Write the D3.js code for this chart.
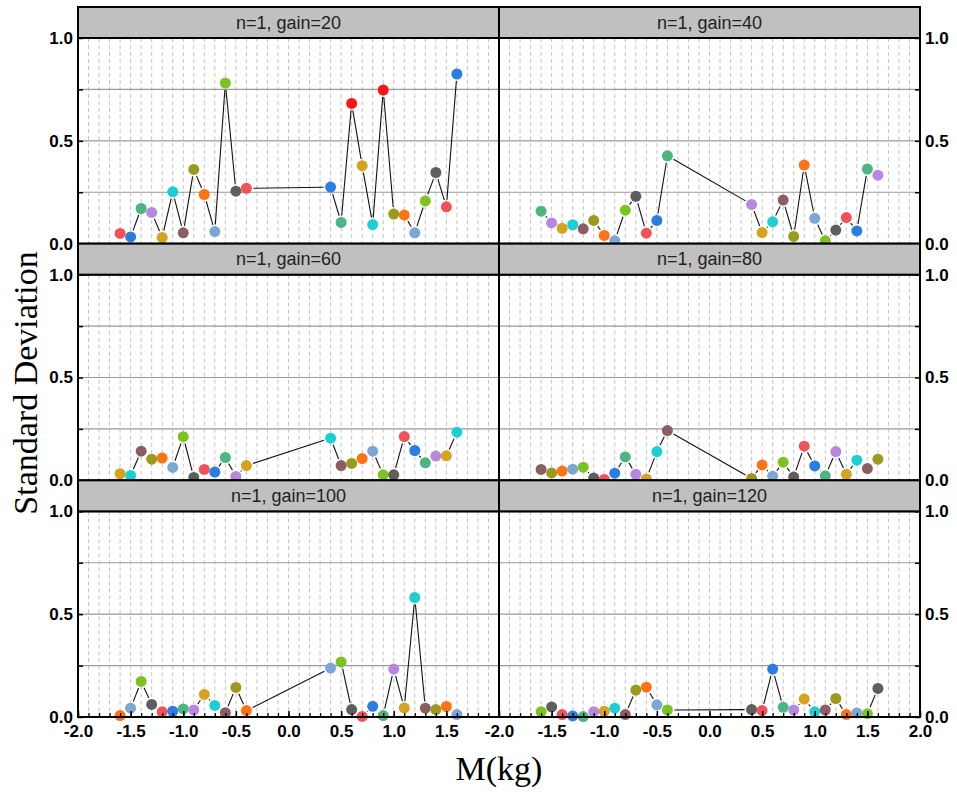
<!DOCTYPE html>
<html>
<head>
<meta charset="utf-8">
<script src="https://cdn.jsdelivr.net/npm/d3@7"></script>
<style>
  body { margin: 0; background: #fff; }
  svg { display: block; }
</style>
</head>
<body>
<div id="chart"></div>
<script>
// Standard deviation vs M(kg), one panel per gain

const FRAME_WIDTH = 957;
const FRAME_HEIGHT = 792;
const MARGINS = {left: 78, right: 37, top: 7, bottom: 75};
const STRIP_H = 31;

// data
const massValues = [-1.6, -1.5, -1.4, -1.3, -1.2, -1.1, -1.0, -0.9, -0.8, -0.7, -0.6, -0.5, -0.4,
                    0.4, 0.5, 0.6, 0.7, 0.8, 0.9, 1.0, 1.1, 1.2, 1.3, 1.4, 1.5, 1.6];
const gains = [20, 40, 60, 80, 100, 120];
const panelTitles = ["n=1, gain=20", "n=1, gain=40", "n=1, gain=60",
                     "n=1, gain=80", "n=1, gain=100", "n=1, gain=120"];

const sdGain20 = [0.050, 0.033, 0.171, 0.152, 0.030, 0.252, 0.053, 0.361, 0.239, 0.059, 0.781, 0.255, 0.269,
                  0.275, 0.103, 0.682, 0.379, 0.093, 0.747, 0.144, 0.139, 0.053, 0.208, 0.346, 0.179, 0.825];
const sdGain40 = [0.158, 0.101, 0.075, 0.092, 0.072, 0.113, 0.040, 0.014, 0.163, 0.230, 0.051, 0.113, 0.427,
                  0.191, 0.054, 0.106, 0.212, 0.035, 0.382, 0.123, 0.014, 0.066, 0.127, 0.062, 0.363, 0.333];
const sdGain60 = [0.032, 0.024, 0.142, 0.103, 0.108, 0.063, 0.212, 0.014, 0.053, 0.040, 0.111, 0.019, 0.072,
                  0.205, 0.072, 0.082, 0.106, 0.142, 0.027, 0.027, 0.213, 0.145, 0.085, 0.118, 0.119, 0.234];
const sdGain80 = [0.053, 0.036, 0.045, 0.054, 0.064, 0.011, 0.004, 0.035, 0.114, 0.029, 0.007, 0.140, 0.242,
                  0.009, 0.075, 0.020, 0.088, 0.016, 0.166, 0.070, 0.022, 0.140, 0.029, 0.098, 0.057, 0.103];
const sdGain100 = [0.007, 0.043, 0.173, 0.061, 0.025, 0.028, 0.039, 0.034, 0.110, 0.056, 0.021, 0.144, 0.031,
                   0.238, 0.268, 0.036, 0.003, 0.052, 0.007, 0.233, 0.044, 0.581, 0.043, 0.036, 0.051, 0.012];
const sdGain120 = [0.026, 0.049, 0.012, 0.005, 0.002, 0.026, 0.028, 0.043, 0.012, 0.131, 0.145, 0.059, 0.034,
                   0.036, 0.031, 0.233, 0.047, 0.034, 0.087, 0.025, 0.034, 0.090, 0.012, 0.020, 0.016, 0.139];
const sdSeries = [sdGain20, sdGain40, sdGain60, sdGain80, sdGain100, sdGain120];

const yTicks = [0, 0.25, 0.5, 0.75, 1.0];
const xMajorTicks = [-2.0, -1.5, -1.0, -0.5, 0.0, 0.5, 1.0, 1.5, 2.0];
const xMinorTicks = d3.range(-20, 21).map(d => d / 10);

// symbol colours cycle through all points in order
const PALETTE = ["#ef5359", "#2a7de1", "#4cb682", "#b787e1", "#d5a31d", "#1ccfd6",
                 "#8b5f61", "#9b9a1c", "#ff7317", "#7ba6d5", "#7bc320", "#5e5e5e"];
const HIGHLIGHT = {0: [0.6, 0.9]};   // bright red points in first panel
const HIGHLIGHT_COLOR = "#ff1414";

const FONT = "'Liberation Sans', Arial, sans-serif";
const SERIF = "'Liberation Serif', 'Times New Roman', serif";

const PANEL_W = (FRAME_WIDTH - MARGINS.left - MARGINS.right) / 2;
const ROW_H = (FRAME_HEIGHT - MARGINS.top - MARGINS.bottom) / 3;
const PLOT_H = ROW_H - STRIP_H;
const R = 5.5;

const svg = d3.select("#chart")
    .append("svg")
    .attr("width", FRAME_WIDTH)
    .attr("height", FRAME_HEIGHT);

gains.forEach((g, p) => {
    const col = p % 2;
    const row = Math.floor(p / 2);
    const x0 = MARGINS.left + col * PANEL_W;
    const top = MARGINS.top + row * ROW_H;
    const plotTop = top + STRIP_H;

    const X_SCALE = d3.scaleLinear().domain([-2, 2]).range([x0, x0 + PANEL_W]);
    const Y_SCALE = d3.scaleLinear().domain([0, 1]).range([plotTop + PLOT_H, plotTop]);

    const panel = svg.append("g");

    panel.append("rect")
        .attr("x", x0).attr("y", plotTop)
        .attr("width", PANEL_W).attr("height", PLOT_H)
        .attr("fill", "#fff");

    // dashed vertical grid every 0.1
    panel.selectAll(".vgrid")
        .data(xMinorTicks.filter(d => Math.abs(d) < 2))
        .enter()
        .append("line")
        .attr("x1", d => X_SCALE(d)).attr("x2", d => X_SCALE(d))
        .attr("y1", plotTop).attr("y2", plotTop + PLOT_H)
        .attr("stroke", "#c4c4c4")
        .attr("stroke-width", 1)
        .attr("stroke-dasharray", "4,3");

    // horizontal grid
    panel.selectAll(".hgrid")
        .data([0.25, 0.5, 0.75])
        .enter()
        .append("line")
        .attr("x1", x0).attr("x2", x0 + PANEL_W)
        .attr("y1", d => Y_SCALE(d)).attr("y2", d => Y_SCALE(d))
        .attr("stroke", "#9a9a9a")
        .attr("stroke-width", 1.2);

    const pts = massValues.map((m, i) => {
        let color = PALETTE[(p * massValues.length + i) % PALETTE.length];
        if (HIGHLIGHT[p] && HIGHLIGHT[p].includes(m)) color = HIGHLIGHT_COLOR;
        return {x: X_SCALE(m), y: Y_SCALE(sdSeries[p][i]), color: color};
    });

    // connecting segments, stopped short of the symbols
    const segs = d3.pairs(pts).map(([a, b]) => {
        const dx = b.x - a.x, dy = b.y - a.y;
        const len = Math.sqrt(dx * dx + dy * dy);
        const gap = R + 1.5;
        if (len <= 2 * gap) return null;
        const ux = dx / len, uy = dy / len;
        return [a.x + ux * gap, a.y + uy * gap, b.x - ux * gap, b.y - uy * gap];
    }).filter(s => s);

    panel.selectAll(".seg")
        .data(segs)
        .enter()
        .append("line")
        .attr("x1", d => d[0]).attr("y1", d => d[1])
        .attr("x2", d => d[2]).attr("y2", d => d[3])
        .attr("stroke", "#111")
        .attr("stroke-width", 1.1);

    panel.selectAll(".pt")
        .data(pts)
        .enter()
        .append("circle")
        .attr("cx", d => d.x)
        .attr("cy", d => d.y)
        .attr("r", R)
        .attr("fill", d => d.color);

    // y axis on the outer side, inward ticks
    const yAxis = (col === 0 ? d3.axisLeft(Y_SCALE) : d3.axisRight(Y_SCALE))
        .tickValues(yTicks)
        .tickSize(-5)
        .tickPadding(5)
        .tickFormat(d => (d * 2) % 1 === 0 ? d.toFixed(1) : "");
    const ya = panel.append("g")
        .attr("transform", "translate(" + (col === 0 ? x0 : x0 + PANEL_W) + ",0)")
        .call(yAxis);
    ya.select(".domain").remove();
    ya.selectAll("line").attr("stroke", "#000").attr("stroke-width", 1.5);
    ya.selectAll("text")
        .attr("font-family", FONT).attr("font-size", 17).attr("font-weight", "bold")
        .attr("fill", "#000");

    // x axis on bottom row only
    if (row === 2) {
        const minor = panel.append("g")
            .attr("transform", "translate(0," + (plotTop + PLOT_H) + ")")
            .call(d3.axisBottom(X_SCALE).tickValues(xMinorTicks).tickSize(-4).tickFormat(""));
        minor.select(".domain").remove();
        minor.selectAll("line").attr("stroke", "#000").attr("stroke-width", 1.3);

        const major = panel.append("g")
            .attr("transform", "translate(0," + (plotTop + PLOT_H) + ")")
            .call(d3.axisBottom(X_SCALE)
                .tickValues(col === 0 ? xMajorTicks.slice(0, -1) : xMajorTicks)
                .tickSize(-6).tickPadding(8)
                .tickFormat(d3.format(".1f")));
        major.select(".domain").remove();
        major.selectAll("line").attr("stroke", "#000").attr("stroke-width", 1.5);
        major.selectAll("text")
            .attr("font-family", FONT).attr("font-size", 17).attr("font-weight", "bold")
            .attr("fill", "#000")
            .text(d => d3.format(".1f")(d).replace("\u2212", "-"));
    }

    // frame
    panel.append("rect")
        .attr("x", x0).attr("y", plotTop)
        .attr("width", PANEL_W).attr("height", PLOT_H)
        .attr("fill", "none")
        .attr("stroke", "#000")
        .attr("stroke-width", 2);

    // strip header
    panel.append("rect")
        .attr("x", x0).attr("y", top)
        .attr("width", PANEL_W).attr("height", STRIP_H)
        .attr("fill", "#c0c0c0")
        .attr("stroke", "#000")
        .attr("stroke-width", 2);

    panel.append("text")
        .attr("x", x0 + PANEL_W / 2)
        .attr("y", top + STRIP_H / 2)
        .attr("dy", "0.35em")
        .attr("text-anchor", "middle")
        .attr("font-family", FONT)
        .attr("font-size", 18)
        .attr("fill", "#222")
        .text(panelTitles[p]);
});

// axis titles
svg.append("text")
    .attr("x", MARGINS.left + PANEL_W)
    .attr("y", 780)
    .attr("text-anchor", "middle")
    .attr("font-family", SERIF)
    .attr("font-size", 34)
    .attr("fill", "#000")
    .text("M(kg)");

svg.append("text")
    .attr("transform", "translate(37,383) rotate(-90)")
    .attr("text-anchor", "middle")
    .attr("font-family", SERIF)
    .attr("font-size", 34)
    .attr("fill", "#000")
    .text("Standard Deviation");
</script>
</body>
</html>
